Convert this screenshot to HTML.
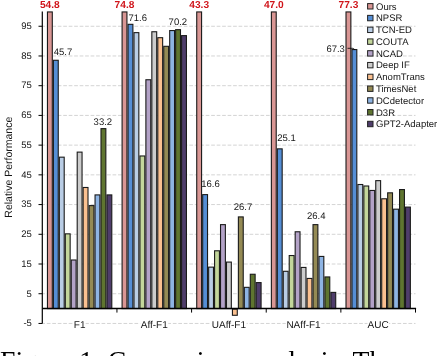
<!DOCTYPE html>
<html><head><meta charset="utf-8"><style>
svg text{text-rendering:geometricPrecision}
svg,.cap{will-change:transform}
html,body{margin:0;padding:0;background:#fff;width:438px;height:356px;overflow:hidden;position:relative}
.t{font-family:"Liberation Sans",sans-serif;font-size:9.5px;fill:#161616}
.cl{font-size:10px}
.lg{font-size:9.5px}
.r{font-family:"Liberation Sans",sans-serif;font-size:10.2px;font-weight:bold;fill:#D0141A}
.yt{font-family:"Liberation Sans",sans-serif;font-size:10.5px;fill:#161616}
.cap{position:absolute;left:0;top:346.7px;font-family:"Liberation Serif",serif;font-size:27.7px;white-space:nowrap;color:#000;line-height:1}
</style></head><body>
<svg width="438" height="356" viewBox="0 0 438 356" style="position:absolute;left:0;top:0">
<line x1="42.3" y1="323.45" x2="415.50" y2="323.45" stroke="#D4D4D4" stroke-width="1" stroke-dasharray="3.7 1.78" stroke-dashoffset="1.0"/>
<line x1="42.3" y1="293.73" x2="415.50" y2="293.73" stroke="#D4D4D4" stroke-width="1" stroke-dasharray="3.7 1.78" stroke-dashoffset="1.0"/>
<line x1="42.3" y1="264.01" x2="415.50" y2="264.01" stroke="#D4D4D4" stroke-width="1" stroke-dasharray="3.7 1.78" stroke-dashoffset="1.0"/>
<line x1="42.3" y1="234.29" x2="415.50" y2="234.29" stroke="#D4D4D4" stroke-width="1" stroke-dasharray="3.7 1.78" stroke-dashoffset="1.0"/>
<line x1="42.3" y1="204.57" x2="415.50" y2="204.57" stroke="#D4D4D4" stroke-width="1" stroke-dasharray="3.7 1.78" stroke-dashoffset="1.0"/>
<line x1="42.3" y1="174.85" x2="415.50" y2="174.85" stroke="#D4D4D4" stroke-width="1" stroke-dasharray="3.7 1.78" stroke-dashoffset="1.0"/>
<line x1="42.3" y1="145.13" x2="415.50" y2="145.13" stroke="#D4D4D4" stroke-width="1" stroke-dasharray="3.7 1.78" stroke-dashoffset="1.0"/>
<line x1="42.3" y1="115.41" x2="415.50" y2="115.41" stroke="#D4D4D4" stroke-width="1" stroke-dasharray="3.7 1.78" stroke-dashoffset="1.0"/>
<line x1="42.3" y1="85.69" x2="415.50" y2="85.69" stroke="#D4D4D4" stroke-width="1" stroke-dasharray="3.7 1.78" stroke-dashoffset="1.0"/>
<line x1="42.3" y1="55.97" x2="415.50" y2="55.97" stroke="#D4D4D4" stroke-width="1" stroke-dasharray="3.7 1.78" stroke-dashoffset="1.0"/>
<line x1="42.3" y1="26.25" x2="415.50" y2="26.25" stroke="#D4D4D4" stroke-width="1" stroke-dasharray="3.7 1.78" stroke-dashoffset="1.0"/>
<rect x="47.45" y="11.94" width="4.85" height="296.65" fill="#D99694" stroke="#1a1a1a" stroke-width="1.1"/>
<rect x="53.40" y="60.28" width="4.85" height="248.31" fill="#558ED5" stroke="#1a1a1a" stroke-width="1.1"/>
<rect x="59.35" y="157.17" width="4.85" height="151.42" fill="#B9CDE5" stroke="#1a1a1a" stroke-width="1.1"/>
<rect x="65.30" y="233.85" width="4.85" height="74.74" fill="#C3D69B" stroke="#1a1a1a" stroke-width="1.1"/>
<rect x="71.25" y="260.00" width="4.85" height="48.59" fill="#B3A2C7" stroke="#1a1a1a" stroke-width="1.1"/>
<rect x="77.20" y="152.12" width="4.85" height="156.47" fill="#CCCCCC" stroke="#1a1a1a" stroke-width="1.1"/>
<rect x="83.15" y="187.48" width="4.85" height="121.11" fill="#FAC090" stroke="#1a1a1a" stroke-width="1.1"/>
<rect x="89.10" y="205.61" width="4.85" height="102.98" fill="#948A54" stroke="#1a1a1a" stroke-width="1.1"/>
<rect x="95.05" y="194.91" width="4.85" height="113.68" fill="#8EB4E3" stroke="#1a1a1a" stroke-width="1.1"/>
<rect x="101.00" y="128.64" width="4.85" height="179.95" fill="#5F7530" stroke="#1a1a1a" stroke-width="1.1"/>
<rect x="106.95" y="194.91" width="4.85" height="113.68" fill="#4F3D6B" stroke="#1a1a1a" stroke-width="1.1"/>
<rect x="122.09" y="11.94" width="4.85" height="296.65" fill="#D99694" stroke="#1a1a1a" stroke-width="1.1"/>
<rect x="128.04" y="24.32" width="4.85" height="284.27" fill="#558ED5" stroke="#1a1a1a" stroke-width="1.1"/>
<rect x="133.99" y="32.64" width="4.85" height="275.95" fill="#B9CDE5" stroke="#1a1a1a" stroke-width="1.1"/>
<rect x="139.94" y="155.98" width="4.85" height="152.61" fill="#C3D69B" stroke="#1a1a1a" stroke-width="1.1"/>
<rect x="145.89" y="79.75" width="4.85" height="228.84" fill="#B3A2C7" stroke="#1a1a1a" stroke-width="1.1"/>
<rect x="151.84" y="31.75" width="4.85" height="276.84" fill="#CCCCCC" stroke="#1a1a1a" stroke-width="1.1"/>
<rect x="157.79" y="37.69" width="4.85" height="270.90" fill="#FAC090" stroke="#1a1a1a" stroke-width="1.1"/>
<rect x="163.74" y="46.31" width="4.85" height="262.28" fill="#948A54" stroke="#1a1a1a" stroke-width="1.1"/>
<rect x="169.69" y="30.56" width="4.85" height="278.03" fill="#8EB4E3" stroke="#1a1a1a" stroke-width="1.1"/>
<rect x="175.64" y="29.67" width="4.85" height="278.92" fill="#5F7530" stroke="#1a1a1a" stroke-width="1.1"/>
<rect x="181.59" y="35.61" width="4.85" height="272.98" fill="#4F3D6B" stroke="#1a1a1a" stroke-width="1.1"/>
<rect x="196.73" y="11.94" width="4.85" height="296.65" fill="#D99694" stroke="#1a1a1a" stroke-width="1.1"/>
<rect x="202.68" y="194.62" width="4.85" height="113.97" fill="#558ED5" stroke="#1a1a1a" stroke-width="1.1"/>
<rect x="208.63" y="267.13" width="4.85" height="41.46" fill="#B9CDE5" stroke="#1a1a1a" stroke-width="1.1"/>
<rect x="214.58" y="250.79" width="4.85" height="57.80" fill="#C3D69B" stroke="#1a1a1a" stroke-width="1.1"/>
<rect x="220.53" y="224.63" width="4.85" height="83.96" fill="#B3A2C7" stroke="#1a1a1a" stroke-width="1.1"/>
<rect x="226.48" y="262.08" width="4.85" height="46.51" fill="#CCCCCC" stroke="#1a1a1a" stroke-width="1.1"/>
<rect x="232.43" y="309.14" width="4.85" height="6.14" fill="#FAC090" stroke="#1a1a1a" stroke-width="1.1"/>
<rect x="238.38" y="216.91" width="4.85" height="91.68" fill="#948A54" stroke="#1a1a1a" stroke-width="1.1"/>
<rect x="244.33" y="287.34" width="4.85" height="21.25" fill="#8EB4E3" stroke="#1a1a1a" stroke-width="1.1"/>
<rect x="250.28" y="274.26" width="4.85" height="34.33" fill="#5F7530" stroke="#1a1a1a" stroke-width="1.1"/>
<rect x="256.23" y="282.59" width="4.85" height="26.00" fill="#4F3D6B" stroke="#1a1a1a" stroke-width="1.1"/>
<rect x="271.37" y="11.94" width="4.85" height="296.65" fill="#D99694" stroke="#1a1a1a" stroke-width="1.1"/>
<rect x="277.32" y="148.85" width="4.85" height="159.74" fill="#558ED5" stroke="#1a1a1a" stroke-width="1.1"/>
<rect x="283.27" y="271.29" width="4.85" height="37.30" fill="#B9CDE5" stroke="#1a1a1a" stroke-width="1.1"/>
<rect x="289.22" y="255.54" width="4.85" height="53.05" fill="#C3D69B" stroke="#1a1a1a" stroke-width="1.1"/>
<rect x="295.17" y="231.77" width="4.85" height="76.82" fill="#B3A2C7" stroke="#1a1a1a" stroke-width="1.1"/>
<rect x="301.12" y="267.43" width="4.85" height="41.16" fill="#CCCCCC" stroke="#1a1a1a" stroke-width="1.1"/>
<rect x="307.07" y="278.43" width="4.85" height="30.16" fill="#FAC090" stroke="#1a1a1a" stroke-width="1.1"/>
<rect x="313.02" y="224.63" width="4.85" height="83.96" fill="#948A54" stroke="#1a1a1a" stroke-width="1.1"/>
<rect x="318.97" y="256.43" width="4.85" height="52.16" fill="#8EB4E3" stroke="#1a1a1a" stroke-width="1.1"/>
<rect x="324.92" y="276.94" width="4.85" height="31.65" fill="#5F7530" stroke="#1a1a1a" stroke-width="1.1"/>
<rect x="330.87" y="292.39" width="4.85" height="16.20" fill="#4F3D6B" stroke="#1a1a1a" stroke-width="1.1"/>
<rect x="346.01" y="11.94" width="4.85" height="296.65" fill="#D99694" stroke="#1a1a1a" stroke-width="1.1"/>
<rect x="351.96" y="49.58" width="4.85" height="259.01" fill="#558ED5" stroke="#1a1a1a" stroke-width="1.1"/>
<rect x="357.91" y="184.51" width="4.85" height="124.08" fill="#B9CDE5" stroke="#1a1a1a" stroke-width="1.1"/>
<rect x="363.86" y="186.00" width="4.85" height="122.59" fill="#C3D69B" stroke="#1a1a1a" stroke-width="1.1"/>
<rect x="369.81" y="190.45" width="4.85" height="118.14" fill="#B3A2C7" stroke="#1a1a1a" stroke-width="1.1"/>
<rect x="375.76" y="180.65" width="4.85" height="127.94" fill="#CCCCCC" stroke="#1a1a1a" stroke-width="1.1"/>
<rect x="381.71" y="198.78" width="4.85" height="109.81" fill="#FAC090" stroke="#1a1a1a" stroke-width="1.1"/>
<rect x="387.66" y="192.83" width="4.85" height="115.76" fill="#948A54" stroke="#1a1a1a" stroke-width="1.1"/>
<rect x="393.61" y="209.18" width="4.85" height="99.41" fill="#8EB4E3" stroke="#1a1a1a" stroke-width="1.1"/>
<rect x="399.56" y="189.56" width="4.85" height="119.03" fill="#5F7530" stroke="#1a1a1a" stroke-width="1.1"/>
<rect x="405.51" y="207.10" width="4.85" height="101.49" fill="#4F3D6B" stroke="#1a1a1a" stroke-width="1.1"/>
<line x1="42.3" y1="308.59" x2="416.10" y2="308.59" stroke="#000" stroke-width="1.5"/>
<line x1="116.94" y1="308.59" x2="116.94" y2="312.59" stroke="#000" stroke-width="1"/>
<line x1="191.58" y1="308.59" x2="191.58" y2="312.59" stroke="#000" stroke-width="1"/>
<line x1="266.22" y1="308.59" x2="266.22" y2="312.59" stroke="#000" stroke-width="1"/>
<line x1="340.86" y1="308.59" x2="340.86" y2="312.59" stroke="#000" stroke-width="1"/>
<line x1="415.50" y1="308.59" x2="415.50" y2="312.59" stroke="#000" stroke-width="1"/>
<line x1="42.3" y1="11.39" x2="42.3" y2="323.45" stroke="#000" stroke-width="1.2"/>
<line x1="38.50" y1="323.45" x2="42.3" y2="323.45" stroke="#000" stroke-width="1"/>
<text x="31.9" y="326.25" text-anchor="end" class="t">-5</text>
<line x1="38.50" y1="293.73" x2="42.3" y2="293.73" stroke="#000" stroke-width="1"/>
<text x="31.9" y="296.53" text-anchor="end" class="t">5</text>
<line x1="38.50" y1="264.01" x2="42.3" y2="264.01" stroke="#000" stroke-width="1"/>
<text x="31.9" y="266.81" text-anchor="end" class="t">15</text>
<line x1="38.50" y1="234.29" x2="42.3" y2="234.29" stroke="#000" stroke-width="1"/>
<text x="31.9" y="237.09" text-anchor="end" class="t">25</text>
<line x1="38.50" y1="204.57" x2="42.3" y2="204.57" stroke="#000" stroke-width="1"/>
<text x="31.9" y="207.37" text-anchor="end" class="t">35</text>
<line x1="38.50" y1="174.85" x2="42.3" y2="174.85" stroke="#000" stroke-width="1"/>
<text x="31.9" y="177.65" text-anchor="end" class="t">45</text>
<line x1="38.50" y1="145.13" x2="42.3" y2="145.13" stroke="#000" stroke-width="1"/>
<text x="31.9" y="147.93" text-anchor="end" class="t">55</text>
<line x1="38.50" y1="115.41" x2="42.3" y2="115.41" stroke="#000" stroke-width="1"/>
<text x="31.9" y="118.21" text-anchor="end" class="t">65</text>
<line x1="38.50" y1="85.69" x2="42.3" y2="85.69" stroke="#000" stroke-width="1"/>
<text x="31.9" y="88.49" text-anchor="end" class="t">75</text>
<line x1="38.50" y1="55.97" x2="42.3" y2="55.97" stroke="#000" stroke-width="1"/>
<text x="31.9" y="58.77" text-anchor="end" class="t">85</text>
<line x1="38.50" y1="26.25" x2="42.3" y2="26.25" stroke="#000" stroke-width="1"/>
<text x="31.9" y="29.05" text-anchor="end" class="t">95</text>
<rect x="73.62" y="319.45" width="12" height="8" fill="#fff"/>
<text x="79.62" y="327.85" text-anchor="middle" class="t cl">F1</text>
<rect x="140.26" y="319.45" width="28" height="8" fill="#fff"/>
<text x="154.26" y="327.85" text-anchor="middle" class="t cl">Aff-F1</text>
<rect x="211.15" y="319.45" width="35.5" height="8" fill="#fff"/>
<text x="228.90" y="327.85" text-anchor="middle" class="t cl">UAff-F1</text>
<rect x="285.79" y="319.45" width="35.5" height="8" fill="#fff"/>
<text x="303.54" y="327.85" text-anchor="middle" class="t cl">NAff-F1</text>
<rect x="367.43" y="319.45" width="21.5" height="8" fill="#fff"/>
<text x="378.18" y="327.85" text-anchor="middle" class="t cl">AUC</text>
<text x="49.88" y="7.7" text-anchor="middle" class="r">54.8</text>
<text x="124.51" y="7.7" text-anchor="middle" class="r">74.8</text>
<text x="199.15" y="7.7" text-anchor="middle" class="r">43.3</text>
<text x="273.80" y="7.7" text-anchor="middle" class="r">47.0</text>
<text x="348.44" y="7.7" text-anchor="middle" class="r">77.3</text>
<text x="53.7" y="54.6" class="t">45.7</text>
<text x="128.5" y="20.7" class="t">71.6</text>
<text x="168.6" y="24.8" class="t">70.2</text>
<text x="93.6" y="124.5" class="t">33.2</text>
<text x="201.2" y="186.5" class="t">16.6</text>
<text x="233.8" y="209.9" class="t">26.7</text>
<text x="277.3" y="141.1" class="t">25.1</text>
<text x="307" y="219" class="t">26.4</text>
<text x="326.4" y="51.6" class="t">67.3</text>
<path d="M347.5 48.3 L353 48.3 L355 49.8" fill="none" stroke="#000" stroke-width="0.8"/>
<text transform="translate(11.8,167.2) rotate(-90)" text-anchor="middle" class="yt">Relative Performance</text>
<rect x="367.6" y="3.60" width="5.4" height="5.4" fill="#D99694" stroke="#222" stroke-width="1"/>
<text x="376.0" y="9.60" class="t lg">Ours</text>
<rect x="367.6" y="15.37" width="5.4" height="5.4" fill="#558ED5" stroke="#222" stroke-width="1"/>
<text x="376.0" y="21.37" class="t lg">NPSR</text>
<rect x="367.6" y="27.14" width="5.4" height="5.4" fill="#B9CDE5" stroke="#222" stroke-width="1"/>
<text x="376.0" y="33.14" class="t lg">TCN-ED</text>
<rect x="367.6" y="38.91" width="5.4" height="5.4" fill="#C3D69B" stroke="#222" stroke-width="1"/>
<text x="376.0" y="44.91" class="t lg">COUTA</text>
<rect x="367.6" y="50.68" width="5.4" height="5.4" fill="#B3A2C7" stroke="#222" stroke-width="1"/>
<text x="376.0" y="56.68" class="t lg">NCAD</text>
<rect x="367.6" y="62.45" width="5.4" height="5.4" fill="#CCCCCC" stroke="#222" stroke-width="1"/>
<text x="376.0" y="68.45" class="t lg">Deep IF</text>
<rect x="367.6" y="74.22" width="5.4" height="5.4" fill="#FAC090" stroke="#222" stroke-width="1"/>
<text x="376.0" y="80.22" class="t lg">AnomTrans</text>
<rect x="367.6" y="85.99" width="5.4" height="5.4" fill="#948A54" stroke="#222" stroke-width="1"/>
<text x="376.0" y="91.99" class="t lg">TimesNet</text>
<rect x="367.6" y="97.76" width="5.4" height="5.4" fill="#8EB4E3" stroke="#222" stroke-width="1"/>
<text x="376.0" y="103.76" class="t lg">DCdetector</text>
<rect x="367.6" y="109.53" width="5.4" height="5.4" fill="#5F7530" stroke="#222" stroke-width="1"/>
<text x="376.0" y="115.53" class="t lg">D3R</text>
<rect x="367.6" y="121.30" width="5.4" height="5.4" fill="#4F3D6B" stroke="#222" stroke-width="1"/>
<text x="376.0" y="127.30" class="t lg">GPT2-Adapter</text>
</svg>
<div class="cap">Figure 1: Comparison analysis. The</div>
</body></html>
